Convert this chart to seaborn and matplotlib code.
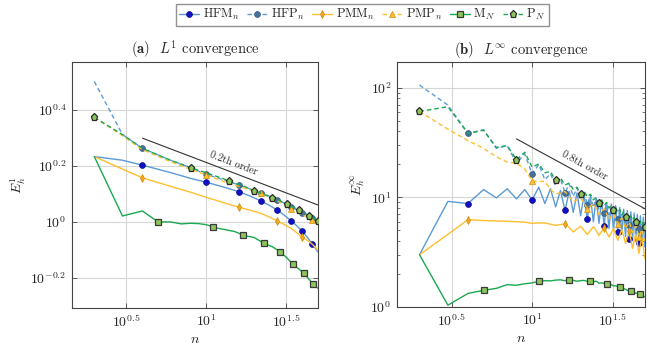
import matplotlib
matplotlib.use("Agg")
import matplotlib.pyplot as plt
import seaborn as sns
from matplotlib.lines import Line2D
from matplotlib.ticker import NullLocator, LogLocator, FixedLocator, NullFormatter

# ---------------- (a) L1 convergence ----------------
hfm1_n = [2, 3, 4, 6, 8, 10, 13, 16, 19, 22, 25, 28, 31, 34, 37, 40, 43, 46, 48, 50]
hfm1 = [1.71, 1.66, 1.594, 1.50, 1.43, 1.386, 1.33, 1.283, 1.235, 1.188, 1.145, 1.101,
        1.055, 1.011, 0.968, 0.926, 0.882, 0.837, 0.81, 0.783]
hfp1_n = [2, 3, 4, 6, 8, 10, 13, 16, 19, 22, 25, 28, 31, 34, 37, 40, 43, 46, 48, 50]
hfp1 = [3.17, 2.05, 1.83, 1.66, 1.56, 1.48, 1.41, 1.355, 1.31, 1.27, 1.235, 1.198,
        1.165, 1.135, 1.103, 1.074, 1.05, 1.03, 1.015, 1.0]
pmm1_n = [2, 4, 6, 8, 10, 13, 16, 19, 22, 25, 28, 31, 34, 37, 40, 43, 46, 48, 50]
pmm1 = [1.71, 1.436, 1.34, 1.276, 1.225, 1.17, 1.128, 1.10, 1.074, 1.04, 1.008,
        0.978, 0.949, 0.915, 0.882, 0.86, 0.835, 0.815, 0.794]
pmp1_n = [2, 3, 4, 6, 8, 10, 13, 16, 19, 22, 25, 28, 31, 34, 37, 40, 43, 46, 48, 50]
pmp1 = [2.36, 2.03, 1.81, 1.64, 1.54, 1.472, 1.39, 1.34, 1.30, 1.266, 1.225, 1.19,
        1.15, 1.11, 1.085, 1.06, 1.04, 1.016, 1.005, 0.995]
mn1_n = [2, 3, 4, 5, 6, 7, 8, 9, 10, 11, 12, 13, 14, 15, 16, 17, 20, 23, 26, 29,
         32, 35, 38, 41, 44, 47, 50]
mn1 = [1.71, 1.05, 1.094, 1.0, 1.0, 0.984, 0.989, 0.986, 0.978, 0.962, 0.948, 0.94,
       0.932, 0.925, 0.912, 0.896, 0.88, 0.839, 0.816, 0.783, 0.745, 0.706, 0.68,
       0.656, 0.625, 0.599, 0.58]
pn1_n = [2, 3, 4, 6, 8, 11, 14, 17, 20, 23, 26, 29, 32, 35, 38, 41, 44, 47, 50]
pn1 = [2.36, 2.05, 1.83, 1.66, 1.563, 1.47, 1.401, 1.345, 1.294, 1.255, 1.222, 1.19,
       1.159, 1.13, 1.104, 1.078, 1.053, 1.03, 1.008]
ref1_n = [4, 50]
ref1 = [1.99, 1.15]

# ---------------- (b) Linf convergence ----------------
n_inf = list(range(2, 51))
hfm_inf = [3.0, 9.2, 8.8, 11.8, 9.9, 12.0, 9.7, 11.8, 9.5, 12.4, 8.8, 12.0, 8.2, 11.6,
           7.6, 11.4, 7.3, 11.0, 6.8, 10.6, 6.3, 10.2, 6.0, 9.8, 5.8, 9.4, 5.45, 9.0,
           5.2, 8.7, 5.0, 8.4, 4.8, 8.1, 4.6, 7.8, 4.4, 7.6, 4.2, 7.4, 4.1, 7.2, 3.95,
           7.0, 3.8, 6.8, 3.7, 6.6, 3.55]
hfp_inf = [106, 69.6, 38.4, 41.5, 28, 29.7, 20.5, 25, 16.4, 20, 14.5, 16.5, 12.8, 14.8,
           11.0, 13.3, 10.2, 12.2, 9.5, 11.3, 8.6, 10.5, 8.1, 9.8, 7.7, 9.3, 7.26, 8.8,
           6.95, 8.3, 6.7, 7.9, 6.4, 7.6, 6.1, 7.2, 5.85, 6.9, 5.65, 6.6, 5.45, 6.4,
           5.25, 6.1, 5.1, 5.9, 4.95, 5.7, 4.8]
pmm_inf = [3.0, 4.6, 6.27, 6.15, 6.1, 6.05, 6.0, 5.95, 5.8, 5.85, 5.85, 5.7, 5.56, 5.65,
           5.77, 5.3, 4.84, 5.15, 5.45, 5.0, 4.6, 5.0, 5.4, 4.95, 4.5, 4.9, 5.3, 4.8,
           4.36, 4.75, 5.2, 4.6, 4.06, 4.55, 5.1, 4.4, 3.8, 4.35, 4.9, 4.15, 3.42, 4.0,
           4.6, 3.85, 3.08, 3.7, 4.3, 3.5, 2.79]
pmp_inf = [60.9, 42, 33, 28, 23.5, 21, 20.5, 18.2, 14.1, 14.0, 14.0, 11.8, 10.8, 11.0,
           11.3, 10.2, 9.2, 9.5, 9.9, 8.9, 7.9, 8.3, 8.8, 7.9, 7.0, 7.4, 7.9, 7.1, 6.3,
           6.7, 7.1, 6.4, 5.75, 6.1, 6.5, 5.8, 5.2, 5.6, 6.0, 5.4, 4.8, 5.1, 5.5, 4.9,
           4.4, 4.7, 5.1, 4.5, 4.0]
mn_inf = [3.0, 1.04, 1.33, 1.42, 1.48, 1.6, 1.58, 1.63, 1.66, 1.72, 1.74, 1.73, 1.76,
          1.77, 1.74, 1.76, 1.75, 1.72, 1.74, 1.75, 1.71, 1.72, 1.70, 1.72, 1.65, 1.66,
          1.64, 1.62, 1.6, 1.6, 1.56, 1.56, 1.53, 1.51, 1.50, 1.47, 1.45, 1.42, 1.40,
          1.39, 1.37, 1.36, 1.34, 1.33, 1.32, 1.31, 1.28, 1.26, 1.24]
pn_inf = [60.9, 67.2, 38.4, 41, 28.6, 29.7, 22.1, 25.8, 18.9, 20.2, 16.8, 17.2, 14.3,
          15.0, 13.0, 13.5, 11.8, 12.4, 10.8, 11.5, 10.1, 10.7, 9.5, 10.0, 8.87, 9.5,
          8.4, 9.0, 8.0, 8.5, 7.6, 8.1, 7.25, 7.75, 6.9, 7.4, 6.6, 7.1, 6.35, 6.8, 6.15,
          6.55, 5.93, 6.3, 5.75, 6.1, 5.55, 5.9, 5.37]
ref_inf_n = [8, 50]
ref_inf = [34.2, 7.9]

# marker positions (n)
mk_hf = [4, 10, 16, 22, 28, 34, 40, 46]
mk_pmm = [4, 16, 28, 40]
mk_pmp = [10, 22, 34, 46]
mk_mn = [5, 11, 17, 23, 29, 35, 41, 47]
mk_pn = [2, 8, 14, 20, 26, 32, 38, 44, 50]

labels = [r"HFM$_n$", r"HFP$_n$", r"PMM$_n$", r"PMP$_n$", r"M$_N$", r"P$_N$"]

blue = "#5b9bd5"
orange = "#ffbf2e"
green = "#1aa851"
dash = (0, (3.2, 2.2))
styles = [
    dict(c=blue, ls="-", m="o", ms=4.2, mfc="#1010c8", mec="#0a0a80", mew=0.5),
    dict(c=blue, ls=dash, m="o", ms=4.2, mfc="#46709c", mec="#34557a", mew=0.5),
    dict(c=orange, ls="-", m="d", ms=3.8, mfc="#f5a91c", mec="#c98a10", mew=0.5),
    dict(c=orange, ls=dash, m="^", ms=4.2, mfc="#ffc030", mec="#d08e10", mew=0.5),
    dict(c=green, ls="-", m="s", ms=4.6, mfc="#8cc55a", mec="#3a3a3a", mew=0.9),
    dict(c=green, ls=dash, m="p", ms=5.2, mfc="#8cc55a", mec="#2a2a2a", mew=0.9),
]

sns.set_theme(style="ticks")
plt.rcParams["font.family"] = ["cmr10", "DejaVu Serif"]
plt.rcParams["mathtext.fontset"] = "cm"
plt.rcParams["axes.formatter.use_mathtext"] = True
plt.rcParams["axes.unicode_minus"] = False

fig = plt.figure(figsize=(6.47, 3.45), dpi=100)
axL = fig.add_axes([0.1113, 0.1072, 0.3802, 0.7131])
axR = fig.add_axes([0.6136, 0.1101, 0.3833, 0.7101])


def draw(ax, n, vals, marks, st, z):
    sns.lineplot(x=n, y=vals, ax=ax, color=st["c"], linestyle=st["ls"], lw=1.0,
                 estimator=None, sort=False, zorder=z)
    xs = [a for a in n if a in marks]
    ys = [b for a, b in zip(n, vals) if a in marks]
    ax.plot(xs, ys, ls="none", marker=st["m"], ms=st["ms"], mfc=st["mfc"],
            mec=st["mec"], mew=st["mew"], zorder=z + 0.5)


left_series = [(hfm1_n, hfm1, mk_hf), (hfp1_n, hfp1, mk_hf), (pmm1_n, pmm1, mk_pmm),
               (pmp1_n, pmp1, mk_pmp), (mn1_n, mn1, mk_mn), (pn1_n, pn1, mk_pn)]
right_series = [(n_inf, hfm_inf, mk_hf), (n_inf, hfp_inf, mk_hf), (n_inf, pmm_inf, mk_pmm),
                (n_inf, pmp_inf, mk_pmp), (n_inf, mn_inf, mk_mn), (n_inf, pn_inf, mk_pn)]

for i, (n, v, mk) in enumerate(left_series):
    draw(axL, n, v, mk, styles[i], 3 + i)
for i, (n, v, mk) in enumerate(right_series):
    draw(axR, n, v, mk, styles[i], 3 + i)

axL.plot(ref1_n, ref1, color="#333333", lw=0.8, zorder=2.5)
axR.plot(ref_inf_n, ref_inf, color="#333333", lw=0.8, zorder=2.5)

for ax in (axL, axR):
    ax.set_xscale("log")
    ax.set_yscale("log")
    ax.set_xlim(1.45, 50.2)
    ax.xaxis.set_major_locator(FixedLocator([10 ** 0.5, 10, 10 ** 1.5]))
    ax.set_xticklabels([r"$10^{0.5}$", r"$10^{1}$", r"$10^{1.5}$"])
    ax.xaxis.set_minor_locator(NullLocator())
    ax.grid(True, which="major", color="#d6d6d6", lw=0.8)
    ax.set_axisbelow(True)
    ax.tick_params(which="both", direction="in", top=True, right=True,
                   labelsize=10, color="#444444", pad=4)
    ax.tick_params(which="major", length=3.5, width=0.6)
    ax.tick_params(which="minor", length=2, width=0.5)
    for sp in ax.spines.values():
        sp.set_color("#444444")
        sp.set_linewidth(0.8)
    ax.set_xlabel(r"$n$", fontsize=10, labelpad=3)

axL.set_ylim(0.493, 3.72)
axL.yaxis.set_major_locator(FixedLocator([10 ** -0.2, 1, 10 ** 0.2, 10 ** 0.4]))
axL.set_yticklabels([r"$10^{-0.2}$", r"$10^{0}$", r"$10^{0.2}$", r"$10^{0.4}$"])
axL.yaxis.set_minor_locator(NullLocator())
axL.set_ylabel(r"$E_h^1$", fontsize=10, labelpad=2)
axL.set_title(r"$\mathbf{(a)}$  $L^1$ convergence", fontsize=10.5, pad=6)
axL.text(14.8, 1.62, "0.2th order", rotation=-21, ha="center", va="center", fontsize=7.5)

axR.set_ylim(1, 172)
axR.yaxis.set_major_locator(FixedLocator([1, 10, 100]))
axR.set_yticklabels([r"$10^{0}$", r"$10^{1}$", r"$10^{2}$"])
axR.yaxis.set_minor_locator(LogLocator(base=10, subs=range(2, 10)))
axR.yaxis.set_minor_formatter(NullFormatter())
axR.set_ylabel(r"$E_h^\infty$", fontsize=10, labelpad=2)
axR.set_title(r"$\mathbf{(b)}$  $L^\infty$ convergence", fontsize=10.5, pad=6)
axR.text(21.2, 19.5, "0.8th order", rotation=-28.6, ha="center", va="center", fontsize=7.5)

handles = [Line2D([], [], color=st["c"], ls=st["ls"], lw=1.0, marker=st["m"], ms=st["ms"],
                  mfc=st["mfc"], mec=st["mec"], mew=st["mew"]) for st in styles]
fig.legend(handles, labels, loc="upper center", bbox_to_anchor=(0.56, 0.997), ncol=6,
           fontsize=9, frameon=True, fancybox=False, edgecolor="#777777",
           handlelength=1.6, handletextpad=0.3, columnspacing=0.6, borderpad=0.3,
           borderaxespad=0.2)

fig.savefig("out.png", dpi=100)
